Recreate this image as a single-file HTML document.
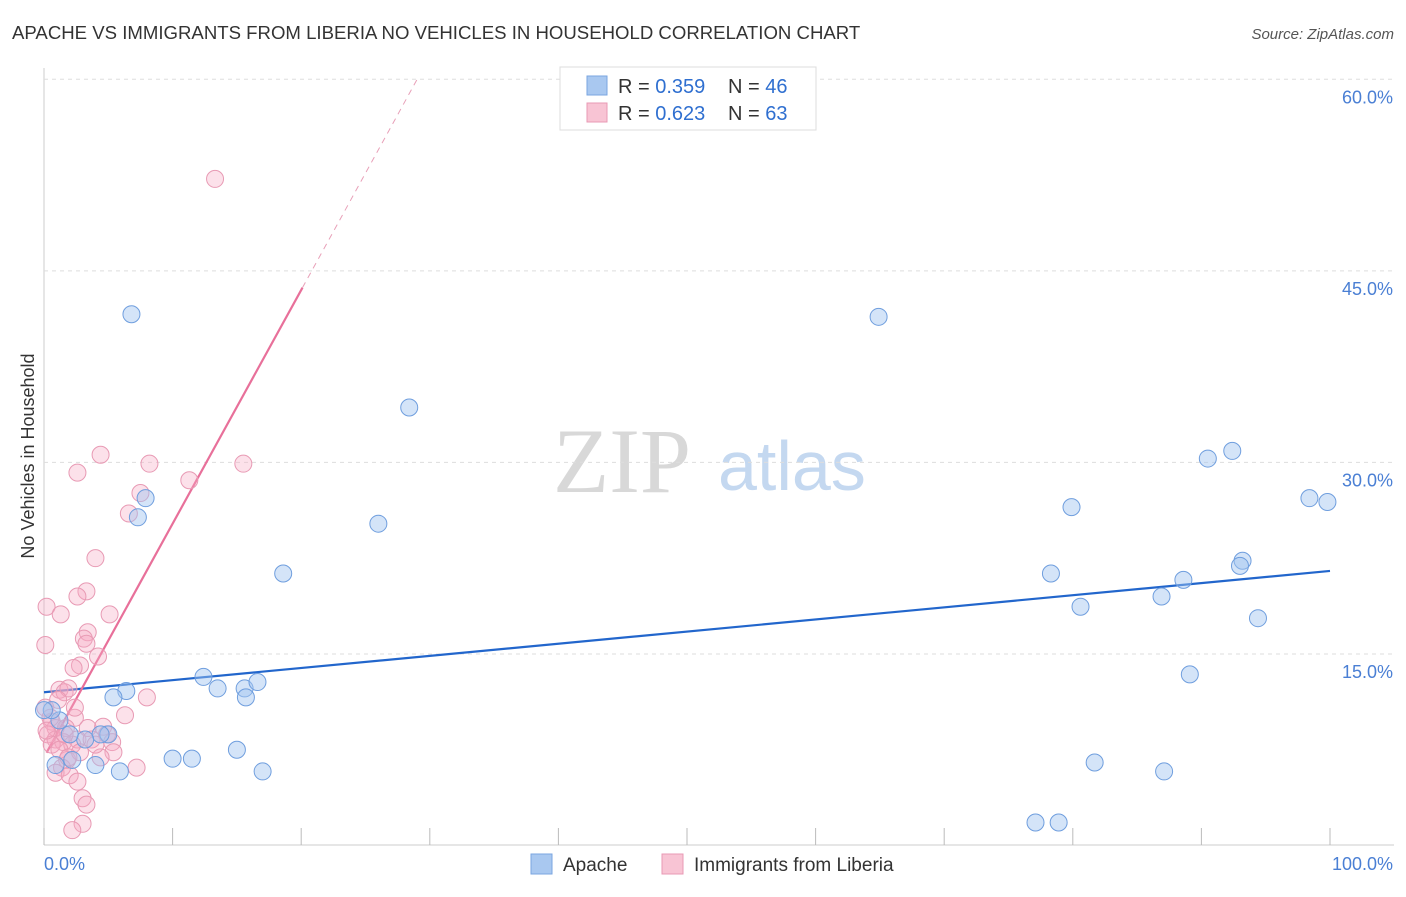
<!DOCTYPE html>
<html><head><meta charset="utf-8"><style>
body{margin:0;background:#fff;width:1406px;height:892px;overflow:hidden;font-family:"Liberation Sans",sans-serif}
</style></head><body>
<svg id="chart" width="1406" height="892" xmlns="http://www.w3.org/2000/svg">
<text x="12" y="39" font-size="18.6" fill="#333">APACHE VS IMMIGRANTS FROM LIBERIA NO VEHICLES IN HOUSEHOLD CORRELATION CHART</text>
<text x="1394" y="39" font-size="15" fill="#555" font-style="italic" text-anchor="end">Source: ZipAtlas.com</text>
<text x="34" y="456" font-size="18" fill="#333" text-anchor="middle" transform="rotate(-90 34 456)">No Vehicles in Household</text>
<g>
<text x="553" y="492" font-size="92" fill="#d8d8d8" font-family="Liberation Serif,serif">ZIP</text>
<text x="718" y="490" font-size="70" fill="#c4d8f0">atlas</text>
</g>
<g id="grid"></g><g id="lines"></g><g id="pts"></g>
<g>
<rect x="560" y="67" width="256" height="63" fill="#fff" stroke="#ddd"/>
<rect x="587" y="76" width="20" height="19" fill="#a9c8f0" stroke="#7aa6e0"/>
<rect x="587" y="103" width="20" height="19" fill="#f8c4d4" stroke="#e89ab4"/>
<text x="618" y="93" font-size="20" fill="#333">R = <tspan fill="#2f6fd0">0.359</tspan></text>
<text x="728" y="93" font-size="20" fill="#333">N = <tspan fill="#2f6fd0">46</tspan></text>
<text x="618" y="120" font-size="20" fill="#333">R = <tspan fill="#2f6fd0">0.623</tspan></text>
<text x="728" y="120" font-size="20" fill="#333">N = <tspan fill="#2f6fd0">63</tspan></text>
</g>
<g>
<rect x="531" y="854" width="21" height="20" fill="#a9c8f0" stroke="#7aa6e0"/>
<text x="563" y="871" font-size="19" fill="#333">Apache</text>
<rect x="662" y="854" width="21" height="20" fill="#f8c4d4" stroke="#e89ab4"/>
<text x="694" y="871" font-size="19" fill="#333">Immigrants from Liberia</text>
</g>
</svg>
<script>
const yTicks=[15,30,45,60];
const yTickLabels=["15.0%","30.0%","45.0%","60.0%"];
const xTicks=[0,10,20,30,40,50,60,70,80,90,100];
const apacheX=[6.8,64.9,28.4,92.4,90.5,98.4,99.8,7.9,7.3,26.0,79.9,18.6,78.3,93.2,93.0,88.6,86.9,80.6,94.4,89.1,12.4,6.4,5.4,13.5,15.6,16.6,15.7,5.0,4.4,3.2,2.0,1.2,0.6,0.9,2.2,4.0,5.9,10.0,11.5,15.0,17.0,81.7,87.1,77.1,78.9,0];
const apacheY=[41.6,41.4,34.3,30.9,30.3,27.2,26.9,27.2,25.7,25.2,26.5,21.3,21.3,22.3,21.9,20.8,19.5,18.7,17.8,13.4,13.2,12.1,11.6,12.3,12.3,12.8,11.6,8.7,8.7,8.3,8.7,9.8,10.6,6.3,6.7,6.3,5.8,6.8,6.8,7.5,5.8,6.5,5.8,1.8,1.8,10.6];
const liberiaX=[13.3,4.4,8.2,15.5,2.6,11.3,7.5,6.6,4.0,3.3,2.6,0.2,1.3,5.1,3.4,3.1,3.3,0.1,4.2,2.8,2.3,1.2,1.6,1.9,8.0,0.6,2.4,6.3,0.9,1.7,3.4,4.6,4.9,0.3,0.9,1.5,2.6,3.7,5.3,2.2,5.4,4.4,1.8,7.2,1.4,0.9,2.0,2.6,3.0,3.3,3.0,2.2,0.1,0.5,0.6,1.2,2.8,4.0,1.6,0.2,1.1,1.9,2.4];
const liberiaY=[52.2,30.6,29.9,29.9,29.2,28.6,27.6,26.0,22.5,19.9,19.5,18.7,18.1,18.1,16.7,16.2,15.8,15.7,14.8,14.1,13.9,12.2,12.0,12.3,11.6,9.7,10.0,10.2,9.2,9.2,9.2,9.3,8.7,8.7,8.3,8.1,8.3,8.3,8.1,7.9,7.3,6.9,6.7,6.1,6.1,5.7,5.5,5.0,3.7,3.2,1.7,1.2,10.8,10.0,7.9,7.5,7.3,7.9,8.7,9.0,11.4,6.9,10.8];
const apacheFit=[12.0,21.5];
const liberiaFit=[6.9,1.83];
const X=v=>44+v*12.86, Y=v=>845.5-v*12.77;
const NS="http://www.w3.org/2000/svg";
function mk(tag,attrs,parent){const e=document.createElementNS(NS,tag);for(const k in attrs)e.setAttribute(k,attrs[k]);document.getElementById(parent).appendChild(e);return e;}
mk('line',{x1:44,y1:68,x2:44,y2:845,stroke:'#ccc'},'grid');
mk('line',{x1:44,y1:845,x2:1394,y2:845,stroke:'#ccc'},'grid');
yTicks.forEach((t,i)=>{
 const l=mk('line',{x1:44,y1:Y(t),x2:1394,y2:Y(t),stroke:'#ddd','stroke-dasharray':'4,4'},'grid');
 
 
 const tx=mk('text',{x:1393,y:Y(t)+24,'font-size':18,fill:'#4a7fd4','text-anchor':'end'},'grid');
 tx.textContent=yTickLabels[i];
 
 
});
xTicks.forEach(t=>{
 const l=mk('line',{x1:X(t),y1:828,x2:X(t),y2:845,stroke:'#bbb'},'grid');
 
 
});
const x0=mk('text',{x:44,y:870,'font-size':18,fill:'#4a7fd4'},'grid');x0.textContent='0.0%';


const x1=mk('text',{x:1393,y:870,'font-size':18,fill:'#4a7fd4','text-anchor':'end'},'grid');x1.textContent='100.0%';


let b=mk('line',{x1:X(0),y1:Y(apacheFit[0]),x2:X(100),y2:Y(apacheFit[1]),stroke:'#2266cc','stroke-width':2.2},'lines');


const pf=x=>liberiaFit[0]+liberiaFit[1]*x;
let p=mk('line',{x1:X(0.2),y1:Y(pf(0.2)),x2:X(20.1),y2:Y(pf(20.1)),stroke:'#e8709a','stroke-width':2.2},'lines');


let pd=mk('line',{x1:X(20.1),y1:Y(pf(20.1)),x2:X(29),y2:Y(pf(29)),stroke:'#e8a0b8','stroke-width':1,'stroke-dasharray':'6,5'},'lines');


liberiaX.forEach((v,i)=>{
 const c=mk('circle',{cx:X(v),cy:Y(liberiaY[i]),r:8.5,fill:'rgba(245,170,195,0.35)',stroke:'#e89ab4','stroke-width':1},'pts');
 
 
});
apacheX.forEach((v,i)=>{
 const c=mk('circle',{cx:X(v),cy:Y(apacheY[i]),r:8.5,fill:'rgba(160,196,240,0.45)',stroke:'#6f9ede','stroke-width':1},'pts');
 
 
});
</script>
</body></html>
